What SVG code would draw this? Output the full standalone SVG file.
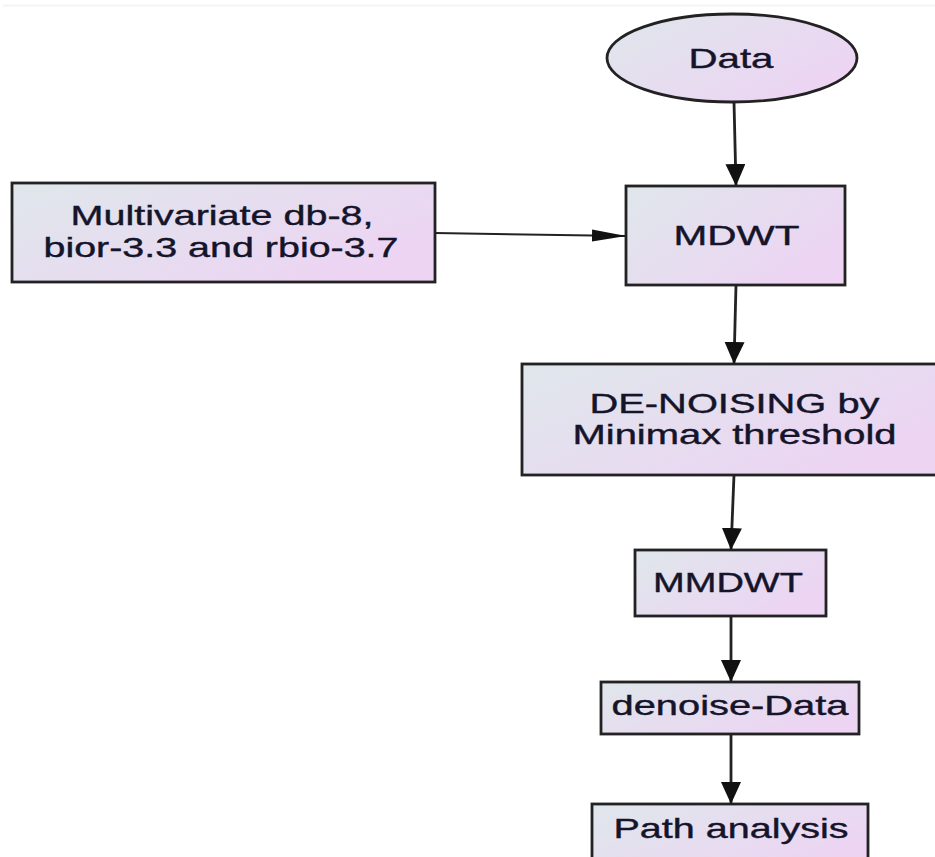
<svg xmlns="http://www.w3.org/2000/svg" width="935" height="857" viewBox="0 0 935 857">
<defs>
<linearGradient id="g" x1="0" y1="0" x2="1" y2="0.6">
<stop offset="0" stop-color="#dfe7eb"/>
<stop offset="1" stop-color="#edd4f3"/>
</linearGradient>
<marker id="av" markerUnits="userSpaceOnUse" markerWidth="24" markerHeight="22" refX="22" refY="10" orient="auto">
<path d="M0,0 L22,10 L0,20 Z" fill="#111"/>
</marker>
<marker id="ah" markerUnits="userSpaceOnUse" markerWidth="36" markerHeight="14" refX="34" refY="6" orient="auto">
<path d="M0,0 L34,6 L0,12 Z" fill="#111"/>
</marker>
<style>
.n{fill:url(#g);stroke:#222;stroke-width:2.8}
.t{font-family:"Liberation Sans",Arial,sans-serif;font-size:28px;fill:#14142a;stroke:#14142a;stroke-width:0.4;text-anchor:middle}
.e{fill:none;stroke:#222;stroke-width:2.8}
</style>
</defs>
<rect width="935" height="857" fill="#fff"/>
<line x1="3" y1="5.5" x2="935" y2="5.5" stroke="#f4f4f4" stroke-width="2"/>
<g id="connectors">
<path class="e" d="M734,102 L736,186" marker-end="url(#av)"/>
<path class="e" d="M435,233 L626,236" marker-end="url(#ah)" style="stroke-width:2"/>
<path class="e" d="M736,285 L734,364" marker-end="url(#av)"/>
<path class="e" d="M734,475 L731,550" marker-end="url(#av)"/>
<path class="e" d="M731,616 L731,682" marker-end="url(#av)"/>
<path class="e" d="M731,734 L731,804" marker-end="url(#av)"/>
</g>
<g id="data">
<ellipse class="n" cx="732" cy="58" rx="125" ry="44"/>
<text class="t" x="731" y="68" textLength="85" lengthAdjust="spacingAndGlyphs">Data</text>
</g>
<g id="wavelets">
<rect class="n" x="12" y="183" width="423" height="99"/>
<text class="t" x="222" y="225" textLength="303" lengthAdjust="spacingAndGlyphs">Multivariate db-8,</text>
<text class="t" x="221" y="257" textLength="355" lengthAdjust="spacingAndGlyphs">bior-3.3 and rbio-3.7</text>
</g>
<g id="mdwt">
<rect class="n" x="626" y="186" width="219" height="99"/>
<text class="t" x="736.5" y="245" textLength="126" lengthAdjust="spacingAndGlyphs">MDWT</text>
</g>
<g id="denoising">
<rect class="n" x="522" y="364" width="425" height="111"/>
<text class="t" x="734.5" y="413" textLength="290" lengthAdjust="spacingAndGlyphs">DE-NOISING by</text>
<text class="t" x="734.5" y="444" textLength="324" lengthAdjust="spacingAndGlyphs">Minimax threshold</text>
</g>
<g id="mmdwt">
<rect class="n" x="635" y="550" width="191" height="66"/>
<text class="t" x="728" y="592" textLength="150" lengthAdjust="spacingAndGlyphs">MMDWT</text>
</g>
<g id="denoise-data">
<rect class="n" x="601" y="682" width="258" height="52"/>
<text class="t" x="730" y="715" textLength="237" lengthAdjust="spacingAndGlyphs">denoise-Data</text>
</g>
<g id="path-analysis">
<rect class="n" x="592" y="804" width="276" height="70"/>
<text class="t" x="731" y="838" textLength="235" lengthAdjust="spacingAndGlyphs">Path analysis</text>
</g>
</svg>
